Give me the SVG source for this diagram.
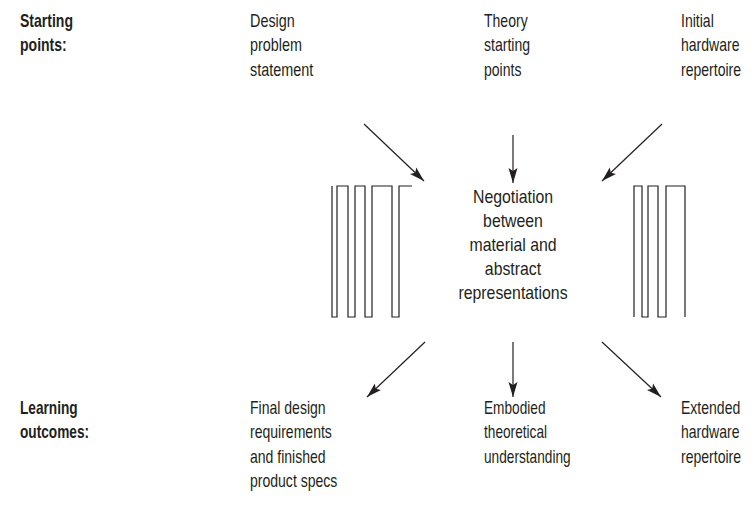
<svg xmlns="http://www.w3.org/2000/svg" width="754" height="507" viewBox="0 0 754 507">
<style>
  text { font-family: "Liberation Sans", Arial, sans-serif; font-size: 18px; fill: #231f20; }
  .b { font-weight: bold; }
  .c { text-anchor: middle; }
  .ln { fill: none; stroke: #231f20; stroke-width: 1.2; }
  .ar { fill: none; stroke: #231f20; stroke-width: 1.2; marker-end: url(#ah); }
</style>
<defs>
  <marker id="ah" markerUnits="userSpaceOnUse" markerWidth="16" markerHeight="10" refX="15" refY="4.5" orient="auto" viewBox="0 0 16 9">
    <path d="M0,0 L15,4.5 L0,9 L3,4.5 z" fill="#231f20"/>
  </marker>
</defs>
<rect width="754" height="507" fill="#ffffff"/>

<g id="label-starting">
  <text class="b" transform="translate(20,27) scale(0.78,1)"><tspan x="0">Starting</tspan><tspan x="0" dy="24.5">points:</tspan></text>
</g>
<g id="node-design-problem">
  <text transform="translate(250,27) scale(0.8,1)"><tspan x="0">Design</tspan><tspan x="0" dy="24.5">problem</tspan><tspan x="0" dy="24.5">statement</tspan></text>
</g>
<g id="node-theory">
  <text transform="translate(484,27) scale(0.78,1)"><tspan x="0">Theory</tspan><tspan x="0" dy="24.5">starting</tspan><tspan x="0" dy="24.5">points</tspan></text>
</g>
<g id="node-initial-hardware">
  <text transform="translate(681,27) scale(0.78,1)"><tspan x="0">Initial</tspan><tspan x="0" dy="24.5">hardware</tspan><tspan x="0" dy="24.5">repertoire</tspan></text>
</g>

<g id="node-negotiation">
  <text class="c" transform="translate(513,203) scale(0.88,1)"><tspan x="0">Negotiation</tspan><tspan x="0" dy="24">between</tspan><tspan x="0" dy="24">material and</tspan><tspan x="0" dy="24">abstract</tspan><tspan x="0" dy="24">representations</tspan></text>
  <path class="ln" d="M332,186 V317 H337 V186 H348 V317 H355 V186 H365 V317 H372 V186 H392 V317 H399 V186 H412"/>
  <path class="ln" d="M634,317 V186 H642 V317 H648 V186 H658 V317 H666 V186 H685 V317"/>
</g>

<g id="label-learning">
  <text class="b" transform="translate(20,414) scale(0.76,1)"><tspan x="0">Learning</tspan><tspan x="0" dy="24.5">outcomes:</tspan></text>
</g>
<g id="node-final-design">
  <text transform="translate(250,414) scale(0.78,1)"><tspan x="0">Final design</tspan><tspan x="0" dy="24.5">requirements</tspan><tspan x="0" dy="24.5">and finished</tspan><tspan x="0" dy="24.5">product specs</tspan></text>
</g>
<g id="node-embodied">
  <text transform="translate(484,414) scale(0.76,1)"><tspan x="0">Embodied</tspan><tspan x="0" dy="24.5">theoretical</tspan><tspan x="0" dy="24.5">understanding</tspan></text>
</g>
<g id="node-extended-hardware">
  <text transform="translate(681,414) scale(0.78,1)"><tspan x="0">Extended</tspan><tspan x="0" dy="24.5">hardware</tspan><tspan x="0" dy="24.5">repertoire</tspan></text>
</g>

<g id="connectors">
  <line class="ar" x1="364" y1="124" x2="424" y2="181"/>
  <line class="ar" x1="513" y1="135" x2="513" y2="183"/>
  <line class="ar" x1="662" y1="124" x2="602" y2="181"/>
  <line class="ar" x1="425" y1="342" x2="367" y2="397"/>
  <line class="ar" x1="513" y1="342" x2="513" y2="397"/>
  <line class="ar" x1="602" y1="342" x2="661" y2="397"/>
</g>
</svg>
